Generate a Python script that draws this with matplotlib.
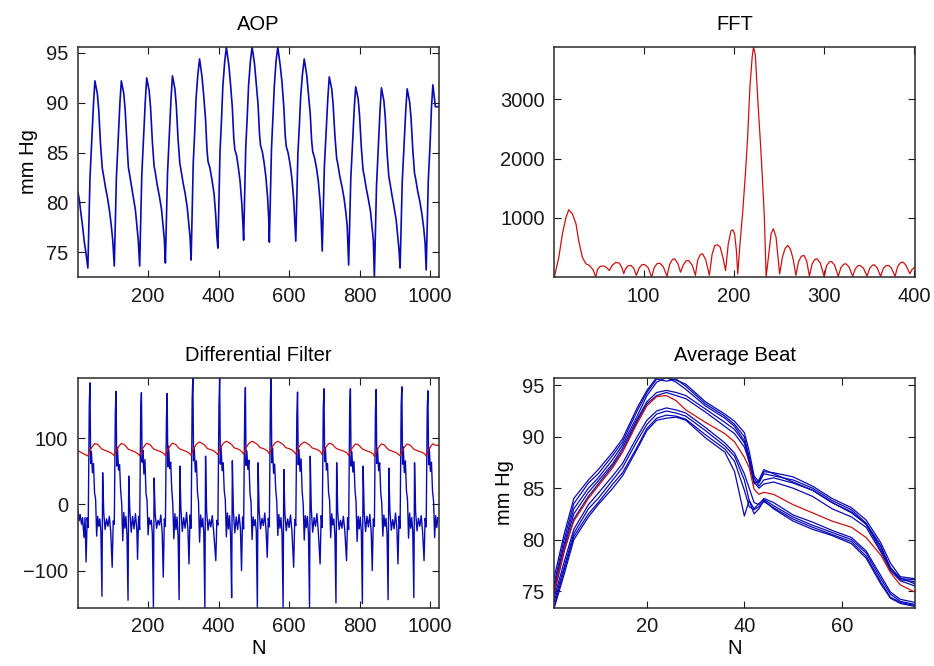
import numpy as np
import matplotlib
matplotlib.use("Agg")
import matplotlib.pyplot as plt

# ---------------- data ----------------
# AOP pressure signal: vertices (sample index, mmHg), one line per beat
aop_x = [1, 5, 9, 14, 19, 24,
         29, 35, 40, 45, 49, 56, 60, 65, 70, 73, 79, 85, 91, 96, 100,
         104, 110, 115, 120, 124, 131, 135, 140, 144, 147, 153, 158, 164, 168, 172,
         176, 182, 187, 192, 196, 203, 207, 212, 217, 220, 226, 232, 238, 242, 246,
         249, 255, 260, 265, 269, 276, 280, 285, 290, 293, 299, 305, 311, 315, 319,
         322, 328, 332, 336, 341, 346, 353, 358, 363, 367, 370, 375, 381, 387, 392, 395,
         398, 404, 408, 412, 417, 422, 429, 434, 439, 443, 446, 451, 456, 461, 466, 469,
         471, 477, 481, 485, 490, 495, 502, 507, 512, 516, 519, 524, 529, 534, 539, 542,
         544, 550, 554, 558, 563, 568, 575, 580, 585, 589, 592, 597, 603, 608, 613, 616,
         619, 625, 629, 633, 638, 643, 650, 655, 660, 664, 667, 672, 678, 683, 688, 691,
         694, 700, 705, 710, 714, 721, 725, 730, 735, 738, 744, 750, 756, 761, 765,
         769, 775, 780, 785, 789, 796, 800, 805, 810, 813, 819, 825, 831, 835, 839,
         842, 848, 853, 858, 862, 869, 873, 878, 883, 886, 892, 898, 904, 908, 912,
         915, 921, 926, 931, 935, 942, 946, 951, 956, 959, 965, 971, 977, 982, 986,
         989, 995, 1000, 1004, 1008, 1015, 1024]
aop_y = [81.0, 80.2, 79.0, 77.6, 76.0, 74.8,
         73.4, 82.4, 86.2, 89.9, 92.2, 90.9, 89.2, 85.8, 83.4, 82.8, 81.5, 80.4, 79.0, 77.5, 76.0,
         73.6, 82.5, 86.3, 90.0, 92.2, 90.9, 89.2, 85.9, 83.5, 82.9, 81.6, 80.5, 79.2, 77.7, 76.2,
         73.6, 82.7, 86.5, 90.2, 92.5, 91.2, 89.5, 86.1, 83.6, 83.1, 81.7, 80.6, 79.3, 77.8, 76.3,
         73.9, 82.9, 86.7, 90.4, 92.7, 91.4, 89.7, 86.3, 83.9, 83.3, 82.0, 80.9, 79.5, 78.0, 76.5,
         74.2, 83.9, 86.9, 90.4, 92.8, 94.4, 92.6, 90.6, 88.3, 85.3, 84.1, 83.5, 82.3, 80.9, 78.6, 76.6,
         75.4, 85.1, 88.1, 91.6, 94.0, 95.6, 93.8, 91.8, 89.5, 86.5, 85.3, 84.7, 83.5, 82.1, 79.8, 77.8,
         76.2, 85.5, 88.4, 91.7, 94.1, 95.6, 93.9, 91.9, 89.8, 86.9, 85.7, 85.1, 84.0, 82.6, 80.5, 78.5,
         76.0, 85.3, 88.5, 91.6, 94.2, 95.6, 93.7, 92.0, 89.6, 86.7, 85.6, 85.0, 83.8, 82.4, 80.3, 78.3,
         76.1, 84.9, 87.6, 90.7, 92.9, 94.4, 92.8, 90.9, 88.9, 86.2, 85.1, 84.5, 83.4, 82.1, 80.1, 78.3,
         75.1, 83.5, 87.0, 90.5, 92.6, 91.4, 89.8, 86.7, 84.4, 83.9, 82.6, 81.6, 80.4, 79.0, 77.6,
         73.7, 82.3, 85.9, 89.5, 91.6, 90.4, 88.7, 85.5, 83.2, 82.7, 81.4, 80.3, 79.1, 77.6, 76.2,
         72.5, 81.6, 85.4, 89.2, 91.5, 90.2, 88.5, 85.0, 82.6, 82.0, 80.7, 79.5, 78.2, 76.7, 75.2,
         73.4, 82.0, 85.6, 89.2, 91.4, 90.1, 88.5, 85.3, 82.9, 82.4, 81.1, 80.1, 78.8, 77.4, 75.9,
         73.2, 82.2, 85.8, 89.5, 91.8, 89.6, 89.6]

# FFT magnitude
fft_x = [1, 6, 10, 14, 17, 21, 25, 28, 32, 36, 40, 44, 47, 49, 52, 56, 59, 62, 65, 69, 73, 76,
         78, 80, 83, 86, 89, 92, 95, 98, 101, 105, 109, 112, 115, 118, 122, 126, 129, 132, 134.5,
         138, 141, 144, 147, 150, 154, 157.5, 160, 163, 165.5, 169, 173, 176, 179, 182, 185, 188,
         191, 194, 197, 199, 201, 203, 204.5, 207, 210, 213, 215.5, 218, 220.5, 222, 224, 227,
         229.5, 232, 234, 236, 239, 241.5, 244, 247, 251, 254, 257, 260, 263, 266, 269, 272, 275,
         278, 281, 284, 287, 290, 292.5, 296, 300.5, 303, 306, 308.5, 312, 316, 319, 322, 324.5,
         328, 332, 335, 338, 340, 344, 348, 351, 354, 356, 359, 363, 366, 369, 372, 375, 379, 382,
         385, 388, 391, 395.5, 398, 401]
fft_y = [0, 336, 730, 1011, 1135, 1068, 899, 617, 336, 223, 195, 120, 0, 130, 180, 185, 160, 110,
         190, 245, 235, 160, 56, 140, 190, 195, 150, 28, 150, 205, 212, 160, 0, 165, 225, 234, 170,
         11, 215, 295, 307, 230, 82, 200, 270, 279, 200, 28, 280, 380, 392, 290, 28, 380, 530, 544,
         505, 330, 110, 560, 780, 797, 730, 450, 50, 561, 1096, 1743, 2363, 3207, 3714, 3883, 3750,
         2926, 2306, 1631, 1011, 0, 392, 730, 814, 673, 50, 330, 480, 533, 470, 300, 28, 260, 350,
         364, 270, 11, 220, 295, 307, 240, 0, 190, 255, 262, 200, 11, 160, 215, 223, 170, 11, 140,
         190, 195, 150, 11, 150, 200, 206, 160, 11, 145, 190, 195, 150, 11, 180, 240, 251, 200, 56,
         130, 167]

# Differential filter output
diff_pre_x = [1, 4, 7, 11, 14, 18, 21]
diff_pre_y = [-10, -25, -15, -30, -20, -50, -20]
diff_spike_x = [35, 109, 181, 254, 327, 403, 476, 549, 624, 699, 774, 847, 920, 994]
diff_offsets = [-11, -8, -5, -2, 0, 2, 4, 7, 10, 13, 16, 19, 22, 25, 28, 31, 34, 36, 39, 43,
                47, 51, 55, 59]
diff_rows = [
    [-87, -20, -35, 150, 184, 62, 80, 48, 62, 18, 8, -48, -18, -33, -22, -42, -139, 48, -12, -38, -22, -33, -18, -42],
    [-95, -25, -30, 140, 171, 58, 86, 52, 60, 22, 2, -55, -12, -36, -18, -47, -145, 43, -8, -42, -18, -37, -14, -38],
    [-83, -18, -38, 145, 169, 64, 82, 46, 68, 16, 6, -46, -20, -30, -24, -44, -156, 40, -14, -36, -24, -31, -16, -44],
    [-110, -22, -33, 130, 168, 57, 88, 54, 64, 24, 0, -52, -14, -38, -19, -48, -144, 58, -6, -41, -20, -36, -12, -39],
    [-90, -16, -36, 160, 192, 66, 84, 49, 66, 19, 4, -57, -16, -34, -21, -43, -156, 73, -10, -39, -23, -34, -17, -41],
    [-85, -24, -31, 150, 192, 61, 87, 51, 63, 21, 7, -49, -13, -37, -17, -46, -141, 66, -11, -43, -19, -38, -15, -37],
    [-100, -19, -37, 140, 177, 59, 81, 53, 67, 17, 3, -53, -19, -32, -23, -41, -156, 63, -9, -37, -21, -32, -13, -43],
    [-80, -21, -34, 160, 192, 63, 85, 47, 61, 23, 5, -47, -15, -36, -20, -45, -156, 53, -13, -40, -22, -35, -16, -40],
    [-95, -23, -32, 135, 170, 60, 83, 50, 69, 20, 1, -54, -17, -35, -18, -44, -156, 73, -7, -42, -20, -33, -14, -42],
    [-90, -17, -35, 145, 175, 65, 86, 52, 62, 18, 6, -50, -14, -31, -22, -47, -149, 63, -12, -38, -24, -36, -18, -39],
    [-85, -20, -38, 150, 175, 58, 80, 49, 65, 22, 4, -56, -18, -37, -19, -42, -150, 58, -10, -41, -18, -34, -15, -41],
    [-100, -22, -33, 140, 174, 62, 84, 51, 63, 19, 2, -48, -16, -33, -21, -46, -144, 55, -8, -39, -23, -37, -13, -38],
    [-90, -18, -36, 150, 178, 61, 87, 48, 66, 21, 7, -51, -13, -36, -20, -43, -141, 63, -11, -40, -21, -33, -17, -43],
    [-85, -21, -34, 145, 172, 60, 85, 50, 64, 20, 5, -50, -17, -35, -20],
]

# Average beat: individual beats (blue) and mean (red)
beat_x = [1, 3, 5, 8, 10, 13, 15, 18, 20, 22, 24, 26, 28, 32, 36, 38, 40, 41, 42, 43, 44, 46,
          50, 54, 58, 62, 65, 68, 70, 72, 75]
beats = [
    [76.4, 80.5, 84.0, 85.8, 86.8, 88.5, 89.8, 92.8, 94.5, 95.75, 95.75, 95.5, 95.1, 93.4, 92.2, 91.5, 90.4, 88.6, 86.2, 85.6, 86.6, 86.5, 86.1, 85.2, 84.0, 83.1, 81.9, 79.7, 77.7, 76.4, 76.2],
    [75.8, 80.0, 83.5, 85.5, 86.4, 88.2, 89.5, 92.5, 94.3, 95.6, 95.4, 95.6, 94.9, 93.2, 92.0, 91.2, 90.0, 88.0, 85.6, 85.5, 86.4, 86.2, 85.8, 85.0, 83.8, 82.9, 81.6, 79.4, 77.3, 76.1, 75.9],
    [75.4, 79.5, 83.0, 85.0, 86.0, 87.8, 89.2, 92.0, 94.0, 95.3, 95.75, 95.3, 94.6, 93.0, 91.8, 91.0, 89.6, 87.5, 85.4, 85.8, 86.8, 86.4, 85.6, 84.8, 83.6, 82.7, 81.5, 79.3, 77.0, 76.2, 76.1],
    [75.2, 79.2, 82.5, 84.6, 85.7, 87.4, 88.9, 91.7, 93.4, 94.3, 94.5, 94.3, 94.0, 92.7, 91.4, 90.7, 89.4, 88.0, 86.0, 85.2, 85.8, 86.0, 85.5, 84.8, 83.6, 82.6, 81.5, 79.0, 77.2, 76.3, 75.7],
    [74.8, 78.8, 82.0, 84.2, 85.4, 87.2, 88.6, 91.5, 93.2, 94.0, 94.3, 94.0, 93.7, 92.4, 91.0, 90.3, 89.0, 87.6, 85.6, 85.0, 85.4, 85.6, 85.0, 84.2, 83.0, 82.2, 81.2, 78.8, 77.0, 76.0, 75.5],
    [74.4, 77.8, 81.0, 83.4, 84.5, 86.2, 87.4, 90.0, 91.6, 92.5, 92.8, 92.6, 92.3, 90.9, 89.4, 88.4, 86.4, 85.0, 83.6, 83.4, 84.0, 83.6, 82.4, 81.7, 80.9, 80.2, 78.9, 76.5, 74.9, 74.2, 73.9],
    [74.0, 77.3, 80.6, 83.0, 84.0, 85.8, 87.0, 89.6, 91.2, 92.2, 92.5, 92.3, 92.0, 90.6, 89.1, 88.1, 85.8, 83.8, 83.0, 83.5, 83.9, 83.3, 82.2, 81.4, 80.7, 80.0, 78.7, 76.2, 74.7, 74.0, 73.7],
    [73.6, 77.0, 80.3, 82.5, 83.6, 85.4, 86.5, 89.0, 90.8, 91.8, 92.1, 92.0, 91.7, 90.2, 88.8, 87.6, 84.8, 83.2, 82.9, 83.2, 83.7, 83.1, 82.0, 81.2, 80.5, 79.8, 78.4, 75.9, 74.4, 73.9, 73.6],
    [73.4, 76.6, 80.0, 82.2, 83.4, 85.0, 86.2, 88.8, 90.6, 91.6, 91.8, 91.9, 91.6, 89.9, 88.5, 86.6, 82.3, 83.8, 82.5, 83.0, 83.8, 83.0, 81.8, 81.0, 80.4, 79.6, 78.2, 75.7, 74.3, 73.8, 73.5],
]
beat_mean = [75.0, 79.0, 81.8, 84.0, 85.2, 87.0, 88.5, 91.3, 93.0, 93.9, 94.0, 93.5, 92.6, 91.4,
             90.3, 89.5, 88.0, 87.0, 84.9, 84.4, 84.6, 84.4, 83.4, 82.6, 81.8, 81.2, 80.2, 78.5,
             76.8, 75.6, 74.9]

aop_ticks_x = [200, 400, 600, 800, 1000]
aop_ticks_y = [75, 80, 85, 90, 95]
fft_ticks_x = [100, 200, 300, 400]
fft_ticks_y = [1000, 2000, 3000]
diff_ticks_y = [-100, 0, 100]
beat_ticks_x = [20, 40, 60]

# ---------------- figure ----------------
plt.rcParams['font.family'] = ['Liberation Sans', 'DejaVu Sans']
FS = 14.5
BLUE = '#0a0ab4'
RED = '#cc1010'

fig = plt.figure(figsize=(9.34, 6.66), dpi=100)
fig.patch.set_facecolor('white')

L1, L2, W = 0.0835, 0.5935, 0.386
B1, B2, H = 0.5841, 0.0878, 0.3453

def style(ax):
    ax.tick_params(direction='in', top=True, right=True, length=5, width=0.8,
                   pad=7, labelsize=FS, colors='#1a1a1a')
    for sp in ax.spines.values():
        sp.set_linewidth(1.1)
        sp.set_color('#2a2a2a')

# AOP
ax1 = fig.add_axes([L1, B1, W, H])
ax1.plot(aop_x, aop_y, color=BLUE, lw=1.2)
ax1.set_xlim(1, 1024)
ax1.set_ylim(min(aop_y), max(aop_y))
ax1.set_xticks(aop_ticks_x)
ax1.set_yticks(aop_ticks_y)
ax1.set_title('AOP', fontsize=FS, pad=12)
ax1.set_ylabel('mm Hg', fontsize=FS, labelpad=6)
style(ax1)

# FFT
ax2 = fig.add_axes([L2, B1, W, H])
ax2.plot(fft_x, fft_y, color=RED, lw=0.9)
ax2.set_xlim(1, 401)
ax2.set_ylim(min(fft_y), max(fft_y))
ax2.set_xticks(fft_ticks_x)
ax2.set_yticks(fft_ticks_y)
ax2.set_title('FFT', fontsize=FS, pad=12)
style(ax2)

# Differential filter
ax3 = fig.add_axes([L1, B2, W, H])
dx = list(diff_pre_x)
dy = list(diff_pre_y)
for s, row in zip(diff_spike_x, diff_rows):
    for off, v in zip(diff_offsets, row):
        dx.append(s + off)
        dy.append(v)
ax3.plot(dx, dy, color=BLUE, lw=1.0)
ax3.plot(aop_x, aop_y, color=RED, lw=0.9)
ax3.set_xlim(1, 1024)
ax3.set_ylim(min(dy), max(dy))
ax3.set_xticks(aop_ticks_x)
ax3.set_yticks(diff_ticks_y)
ax3.set_title('Differential Filter', fontsize=FS, pad=12)
ax3.set_xlabel('N', fontsize=FS, labelpad=2)
style(ax3)

# Average beat
ax4 = fig.add_axes([L2, B2, W, H])
for b in beats:
    ax4.plot(beat_x, b, color=BLUE, lw=0.9)
ax4.plot(beat_x, beat_mean, color=RED, lw=0.9)
ax4.set_xlim(1, 75)
allb = np.array(beats)
ax4.set_ylim(allb.min(), allb.max())
ax4.set_xticks(beat_ticks_x)
ax4.set_yticks(aop_ticks_y)
ax4.set_title('Average Beat', fontsize=FS, pad=12)
ax4.set_xlabel('N', fontsize=FS, labelpad=2)
ax4.set_ylabel('mm Hg', fontsize=FS, labelpad=6)
style(ax4)

fig.savefig('out.png', dpi=100, facecolor='white')
